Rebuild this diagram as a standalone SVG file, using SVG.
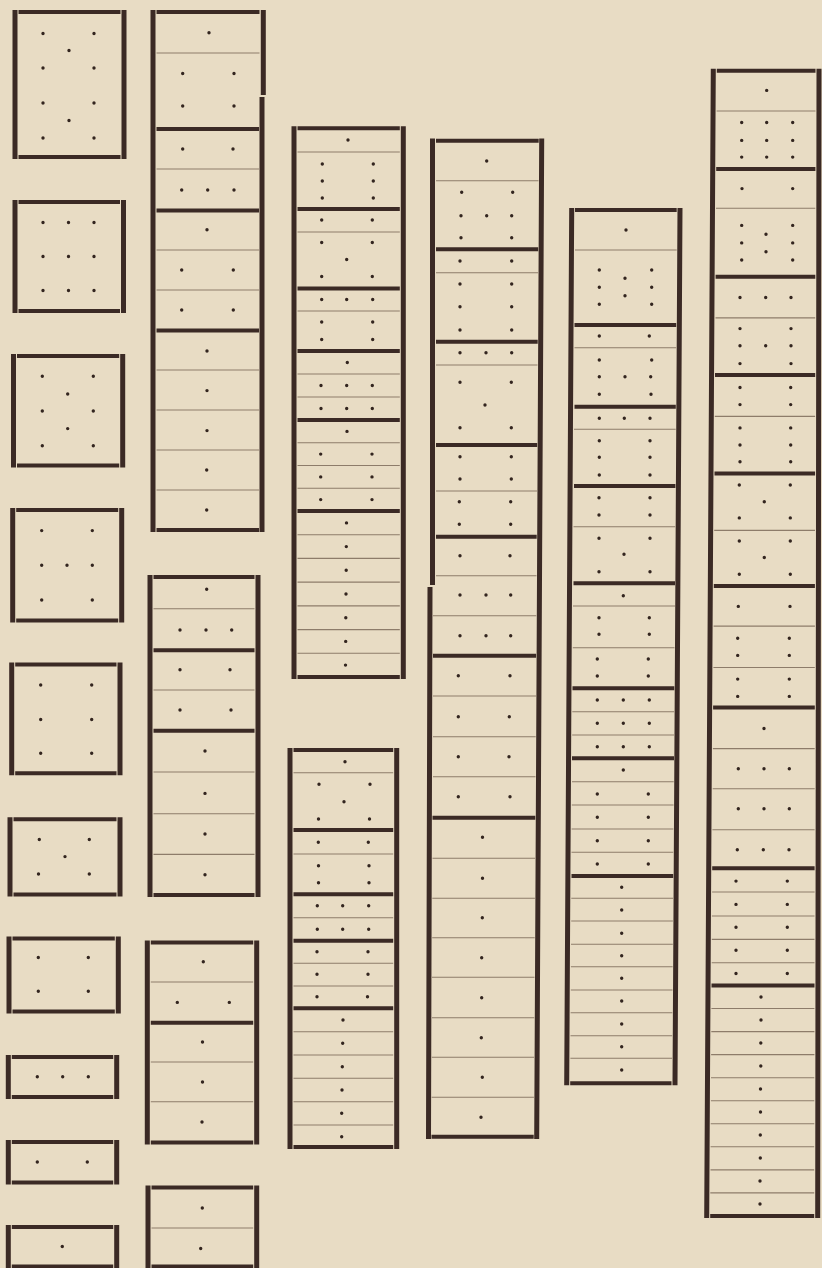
<svg xmlns="http://www.w3.org/2000/svg" width="822" height="1268" viewBox="0 0 822 1268">
<style>
.s{stroke:#3b2a25;stroke-width:5;fill:none}
.k{stroke:#3b2a25;stroke-width:4;fill:none}
.t{stroke:#8d7c6a;stroke-width:1.1;fill:none}
.d{stroke:#33251f;stroke-width:3.4;stroke-linecap:round;fill:none}
</style>
<rect id="paper" width="822" height="1268" fill="#e8dcc4"/>
<g id="column1">
<g id="c1-1"><path class="s" d="M15 10V159M124 10V159"/><path class="k" d="M18.5 12H120.5M18.5 157H120.5"/><path class="d" d="M43 33.5h0M94 33.5h0M69 50.5h0M43 68h0M94 68h0M43 103h0M94 103h0M69 120.5h0M43 138h0M94 138h0"/></g>
<g id="c1-2"><path class="s" d="M15 200V313M123.5 200V313"/><path class="k" d="M18.5 202H120M18.5 311H120"/><path class="d" d="M43 222.5h0M68.5 222.5h0M94 222.5h0M43 256.5h0M68.5 256.5h0M94 256.5h0M43 290.5h0M68.5 290.5h0M94 290.5h0"/></g>
<g id="c1-3"><path class="s" d="M13.5 354V467.5M122.7 354V467.5"/><path class="k" d="M17 356H119.2M17 465.5H119.2"/><path class="d" d="M42.3 376.3h0M93.3 376.3h0M67.7 394h0M42.3 411h0M93.3 411h0M67.7 428.6h0M42.3 445.7h0M93.3 445.7h0"/></g>
<g id="c1-4"><path class="s" d="M12.7 508V622.4M121.7 508V622.4"/><path class="k" d="M16.2 510H118.2M16.2 620.4H118.2"/><path class="d" d="M41.7 530.6h0M92.3 530.6h0M41.7 565.3h0M67 565.3h0M92.3 565.3h0M41.7 600h0M92.3 600h0"/></g>
<g id="c1-5"><path class="s" d="M11.7 662.6V775.2M120 662.6V775.2"/><path class="k" d="M15.2 664.6H116.5M15.2 773.2H116.5"/><path class="d" d="M40.7 685h0M91.7 685h0M40.7 719.5h0M91.7 719.5h0M40.7 753.3h0M91.7 753.3h0"/></g>
<g id="c1-6"><path class="s" d="M10 817.2V896.4M120 817.2V896.4"/><path class="k" d="M13.5 819.2H116.5M13.5 894.4H116.5"/><path class="d" d="M39.3 839.5h0M89.3 839.5h0M65 856.6h0M38.5 874h0M89.3 874h0"/></g>
<g id="c1-7"><path class="s" d="M9 936.4V1013.6M118.3 936.4V1013.6"/><path class="k" d="M12.5 938.4H114.8M12.5 1011.6H114.8"/><path class="d" d="M38.3 957.5h0M88.3 957.5h0M38.3 991.3h0M88.3 991.3h0"/></g>
<g id="c1-8"><path class="s" d="M8.3 1055V1099M116.7 1055V1099"/><path class="k" d="M11.8 1057H113.2M11.8 1097H113.2"/><path class="d" d="M37.3 1076.7h0M62.7 1076.7h0M88.3 1076.7h0"/></g>
<g id="c1-9"><path class="s" d="M8.3 1140V1184.5M116.7 1140V1184.5"/><path class="k" d="M11.8 1142H113.2M11.8 1182.5H113.2"/><path class="d" d="M37.3 1162h0M87.3 1162h0"/></g>
<g id="c1-10"><path class="s" d="M8.3 1225V1268M116.7 1225V1268"/><path class="k" d="M11.8 1227H113.2M11.8 1266.5H113.2"/><path class="d" d="M62.3 1246.5h0"/></g>
</g>
<g id="column2">
<g id="c2-1"><path class="s" d="M153 10V532M263.3 10V95M262 97V532"/><path class="k" d="M156.5 12H259.5M156.5 129H259M156.5 210.6H259M156.5 330.6H259M156.5 530H259"/><path class="t" d="M156.5 53H259.5M156.5 169H259M156.5 250H259M156.5 290H259M156.5 370H259M156.5 410H259M156.5 450H259M156.5 490H259"/><path class="d" d="M209 32.7h0M182.7 73.5h0M234 73.5h0M182.7 106h0M234 106h0M182.7 149h0M233 149h0M181.7 190h0M207.7 190h0M234 190h0M207 229.8h0M181.7 270h0M233.3 270h0M181.7 310h0M233.3 310h0M207 351h0M207 390.6h0M207 430.6h0M206.7 470h0M206.7 510h0"/></g>
<g id="c2-2"><path class="s" d="M150 575V897M258 575V897"/><path class="k" d="M153.5 577H254.5M153.5 650.3H254.5M153.5 730.7H254.5M153.5 895H254.5"/><path class="t" d="M153.5 608.8H254.5M153.5 690H254.5M153.5 772H254.5M153.5 813.7H254.5M153.5 854.4H254.5"/><path class="d" d="M206.7 589.3h0M180 630h0M206 630h0M231.7 630h0M180 669.7h0M230 669.7h0M180 710h0M231 710h0M205 751h0M205 793.4h0M205 834h0M205 874.7h0"/></g>
<g id="c2-3"><path class="s" d="M147.3 940.4V1144.4M256.7 940.4V1144.4"/><path class="k" d="M150.8 942.4H253.2M150.8 1022.8H253.2M150.8 1142.4H253.2"/><path class="t" d="M150.8 982H253.2M150.8 1062H253.2M150.8 1101.8H253.2"/><path class="d" d="M203.3 961.8h0M177.3 1002.4h0M229.3 1002.4h0M202.5 1042h0M202.5 1082h0M202 1122h0"/></g>
<g id="c2-4"><path class="s" d="M148 1185.5V1268M256.7 1185.5V1268"/><path class="k" d="M151.5 1187.5H253.2M151.5 1266.5H253.2"/><path class="t" d="M151.5 1228H253.2"/><path class="d" d="M202.3 1208h0M200.7 1248.5h0"/></g>
</g>
<g id="column3">
<g id="c3-1"><path class="s" d="M294 126.3V679M403.3 126.3V679"/><path class="k" d="M297.5 128.3H399.8M297.5 209H399.8M297.5 288.5H399.8M297.5 351H399.8M297.5 420H399.8M297.5 511H399.8M297.5 677H399.8"/><path class="t" d="M297.5 152H399.8M297.5 232H399.8M297.5 311H399.8M297.5 374H399.8M297.5 397H399.8M297.5 442.8H399.8M297.5 465.5H399.8M297.5 488.3H399.8M297.5 534.7H399.8M297.5 558.4H399.8M297.5 582.1H399.8M297.5 605.9H399.8M297.5 629.6H399.8M297.5 653.3H399.8"/><path class="d" d="M348 140h0M322.3 164h0M373.3 164h0M322.3 181h0M373.3 181h0M322.3 198h0M373.3 198h0M321.7 220h0M372.3 220h0M321.7 242.5h0M372.3 242.5h0M346.7 259.5h0M321.7 276.5h0M372.3 276.5h0M321.7 299.5h0M346.7 299.5h0M372.7 299.5h0M321.7 322h0M372.7 322h0M321.7 339.5h0M372.7 339.5h0M347.3 362.5h0M321 385.5h0M346.7 385.5h0M372.3 385.5h0M321 408.5h0M346.7 408.5h0M372.3 408.5h0M347 431.4h0M320.7 454.1h0M372 454.1h0M320.7 476.9h0M372 476.9h0M320.7 499.6h0M372 499.6h0M346.5 522.9h0M346.3 546.6h0M346.2 570.3h0M346 594h0M345.8 617.7h0M345.7 641.4h0M345.5 665.1h0"/></g>
<g id="c3-2"><path class="s" d="M290 748V1149M396.7 748V1149"/><path class="k" d="M293.5 750H393.2M293.5 830H393.2M293.5 894.3H393.2M293.5 940.7H393.2M293.5 1008.3H393.2M293.5 1147H393.2"/><path class="t" d="M293.5 772.7H393.2M293.5 854H393.2M293.5 917.7H393.2M293.5 963.3H393.2M293.5 986H393.2M293.5 1031.7H393.2M293.5 1055H393.2M293.5 1078.3H393.2M293.5 1101.7H393.2M293.5 1125H393.2"/><path class="d" d="M345 761.7h0M319 784.3h0M370 784.3h0M344 801.7h0M318.5 819h0M369.5 819h0M318.3 842.3h0M368.3 842.3h0M318.5 865.7h0M369 865.7h0M318.5 882.7h0M369 882.7h0M317.3 905.7h0M342.7 905.7h0M368.7 905.7h0M317.3 929.3h0M342.7 929.3h0M368.7 929.3h0M317 951.7h0M368 951.7h0M317 974.3h0M368 974.3h0M317 996.7h0M367.5 996.7h0M343 1020h0M342.7 1043.3h0M342.3 1066.7h0M342 1090h0M341.7 1113.3h0M341.7 1136.7h0"/></g>
</g>
<g id="column4">
<g id="c4-1"><path class="s" d="M432.5 138.5V585M430 587L428.5 1139M541.7 138.5L536.7 1139"/><path class="k" d="M436 140.7H538.7M436 249.3H538.2M436 341.7H537.7M436 445H537.2M436 536.7H536.7M433 655.7H536.1M432.5 817.7H535.3M431.5 1136.7H533.7"/><path class="t" d="M436 180.7H538.5M436 272.7H538M436 365H537.5M436 491H537M436 575.7H536.5M433 615.7H536.3M433 696H536M433 736.7H535.7M433 776.7H535.5M432.5 858.3H535M432.3 898.3H534.9M432.2 937.7H534.7M432 977.3H534.5M432 1017.7H534.3M431.8 1057.3H534.1M431.6 1097.3H533.9"/><path class="d" d="M486.7 161h0M461.7 192.3h0M512.7 192.3h0M461 215.7h0M486.7 215.7h0M511.7 215.7h0M461 237.7h0M511.7 237.7h0M460 261h0M511.7 261h0M460 284h0M511.7 284h0M460 306.7h0M511.7 306.7h0M460 330h0M511.7 330h0M460 352.7h0M486 352.7h0M511.7 352.7h0M460 382.3h0M511.3 382.3h0M485 405h0M460 427.7h0M511.3 427.7h0M460 456.7h0M511.3 456.7h0M460 479h0M511.3 479h0M459.3 501.7h0M510.7 501.7h0M459.3 524.3h0M510.7 524.3h0M460 555.7h0M510 555.7h0M460 595h0M486 595h0M510.7 595h0M460 635.7h0M486 635.7h0M510.7 635.7h0M458.3 675.7h0M510 675.7h0M458.3 716.7h0M509.3 716.7h0M458.3 756.7h0M509 756.7h0M458.3 796.7h0M510 796.7h0M482.5 837.3h0M482.5 878.3h0M482.3 917.7h0M481.7 957.7h0M481.7 997.7h0M481.3 1037.7h0M482.3 1077.3h0M481 1117.3h0"/></g>
</g>
<g id="column5">
<g id="c5-1"><path class="s" d="M571.7 208L566.7 1085.3M680 208L675 1085.3"/><path class="k" d="M575 210H676.7M574.5 325H676.2M574.5 406.7H675.8M574 486H675.4M573.5 583.3H675M572.5 688.3H674.3M572 758.3H674M571.5 876H673.2M570.2 1083.3H671.5"/><path class="t" d="M575 250H676.7M574.5 347.7H676.2M574 429.3H675.7M573.5 526.7H675.2M573 606H675M572.8 647.7H674.5M572.3 711.7H674.1M572.2 735H674M572 781.7H673.7M571.8 805H673.6M571.6 829H673.4M571.5 852.3H673.3M571.3 898.3H673M571.2 921H672.9M571 944.3H672.8M570.9 966.7H672.6M570.8 990H672.5M570.6 1012.7H672.4M570.5 1035.7H672.2M570.4 1058.3H672.1"/><path class="d" d="M626 230h0M599.3 270h0M651.7 270h0M625 278.3h0M599.3 287.3h0M651.7 287.3h0M625 295.7h0M599.3 304.3h0M651.7 304.3h0M599.3 336h0M649.3 336h0M599.3 360h0M651.7 360h0M599.3 376.7h0M625 376.7h0M650.7 376.7h0M599.3 394.3h0M651 394.3h0M599.3 418.3h0M624.3 418.3h0M650 418.3h0M599.3 440.7h0M650 440.7h0M599.3 457.3h0M650 457.3h0M599.3 475h0M650 475h0M599 497.7h0M650 497.7h0M599 515h0M650 515h0M599 538.3h0M650 538.3h0M624 554.3h0M599 571.7h0M650 571.7h0M623.3 595.7h0M599 617.7h0M649.3 617.7h0M599 634.3h0M649.3 634.3h0M597.3 659h0M648.3 659h0M597.3 676h0M648.3 676h0M597.3 700h0M623.3 700h0M649.3 700h0M597.3 723.3h0M623.3 723.3h0M649.3 723.3h0M597.3 746.7h0M623.3 746.7h0M649.3 746.7h0M623.3 770h0M597.3 794h0M648.3 794h0M597.3 817.3h0M648.3 817.3h0M597.3 840.7h0M648.3 840.7h0M597.3 864h0M648.3 864h0M621.7 887.3h0M621.7 910h0M621.7 933.3h0M621.7 955.7h0M621.7 978.3h0M621.7 1001h0M621.7 1024h0M621.7 1046.7h0M621.7 1070h0"/></g>
</g>
<g id="column6">
<g id="c6-1"><path class="s" d="M713.3 68.7L706.7 1218M819 68.7L817.7 1218"/><path class="k" d="M716.8 70.7H815.5M716.2 169H815.4M715.6 276.8H815.3M715 375H815.2M714.5 473.6H815.1M713.8 586H814.9M713.1 707.6H814.8M712.2 868.3H814.6M711.5 985.5H814.5M710.2 1216H814.2"/><path class="t" d="M716.6 111H815.5M716 208.2H815.3M715.5 317.9H815.2M714.8 416.4H815.1M714.2 530.4H815M713.6 626.1H814.9M713.4 667.5H814.8M712.9 748.6H814.7M712.7 788.8H814.7M712.4 829.7H814.6M712.1 892H814.6M711.9 916H814.5M711.8 939.4H814.5M711.7 962.7H814.5M711.4 1008.5H814.4M711.3 1031.6H814.4M711.1 1054.6H814.4M711 1077.7H814.3M710.9 1100.7H814.3M710.7 1123.8H814.3M710.6 1146.8H814.2M710.5 1169.9H814.2M710.3 1192.9H814.2"/><path class="d" d="M766.7 90.4h0M741.7 122.5h0M766.7 122.5h0M792.7 122.5h0M741.7 140.4h0M766.7 140.4h0M792.7 140.4h0M741.7 157.1h0M766.7 157.1h0M792.7 157.1h0M742 188.6h0M792.7 188.6h0M741.7 225.4h0M792.7 225.4h0M766 234.3h0M741.7 242.9h0M792.7 242.9h0M766 251.8h0M741.7 260h0M792.7 260h0M740 297.5h0M765.7 297.5h0M791 297.5h0M740 328.6h0M791 328.6h0M740 345.7h0M765.7 345.7h0M791 345.7h0M740 363.6h0M791 363.6h0M740 387.5h0M790.7 387.5h0M740 404.6h0M790.7 404.6h0M740 427.9h0M790.7 427.9h0M740 445h0M790.7 445h0M740 461.8h0M790.7 461.8h0M739.3 485h0M790.3 485h0M764.3 501.8h0M739.3 517.9h0M790.3 517.9h0M739.3 541h0M790.3 541h0M764.3 557.5h0M739.3 574.3h0M790.3 574.3h0M738.3 606.4h0M790 606.4h0M737.7 638.2h0M789.3 638.2h0M737.7 655.4h0M789.3 655.4h0M737.7 679.1h0M789.3 679.1h0M737.7 696.4h0M789.3 696.4h0M764 728.5h0M738.3 768.7h0M764 768.7h0M789.3 768.7h0M738.3 808.8h0M764 808.8h0M789.3 808.8h0M737.3 849.8h0M763.3 849.8h0M789 849.8h0M736 881.1h0M787.3 881.1h0M736 904.4h0M787.3 904.4h0M736 927.3h0M787.3 927.3h0M736 950.2h0M787.3 950.2h0M736 973.5h0M787.3 973.5h0M761 997h0M761 1020h0M760.8 1043h0M760.8 1066h0M760.5 1089h0M760.5 1112h0M760.3 1135h0M760.3 1158h0M760 1181h0M760 1204h0"/></g>
</g>
</svg>
